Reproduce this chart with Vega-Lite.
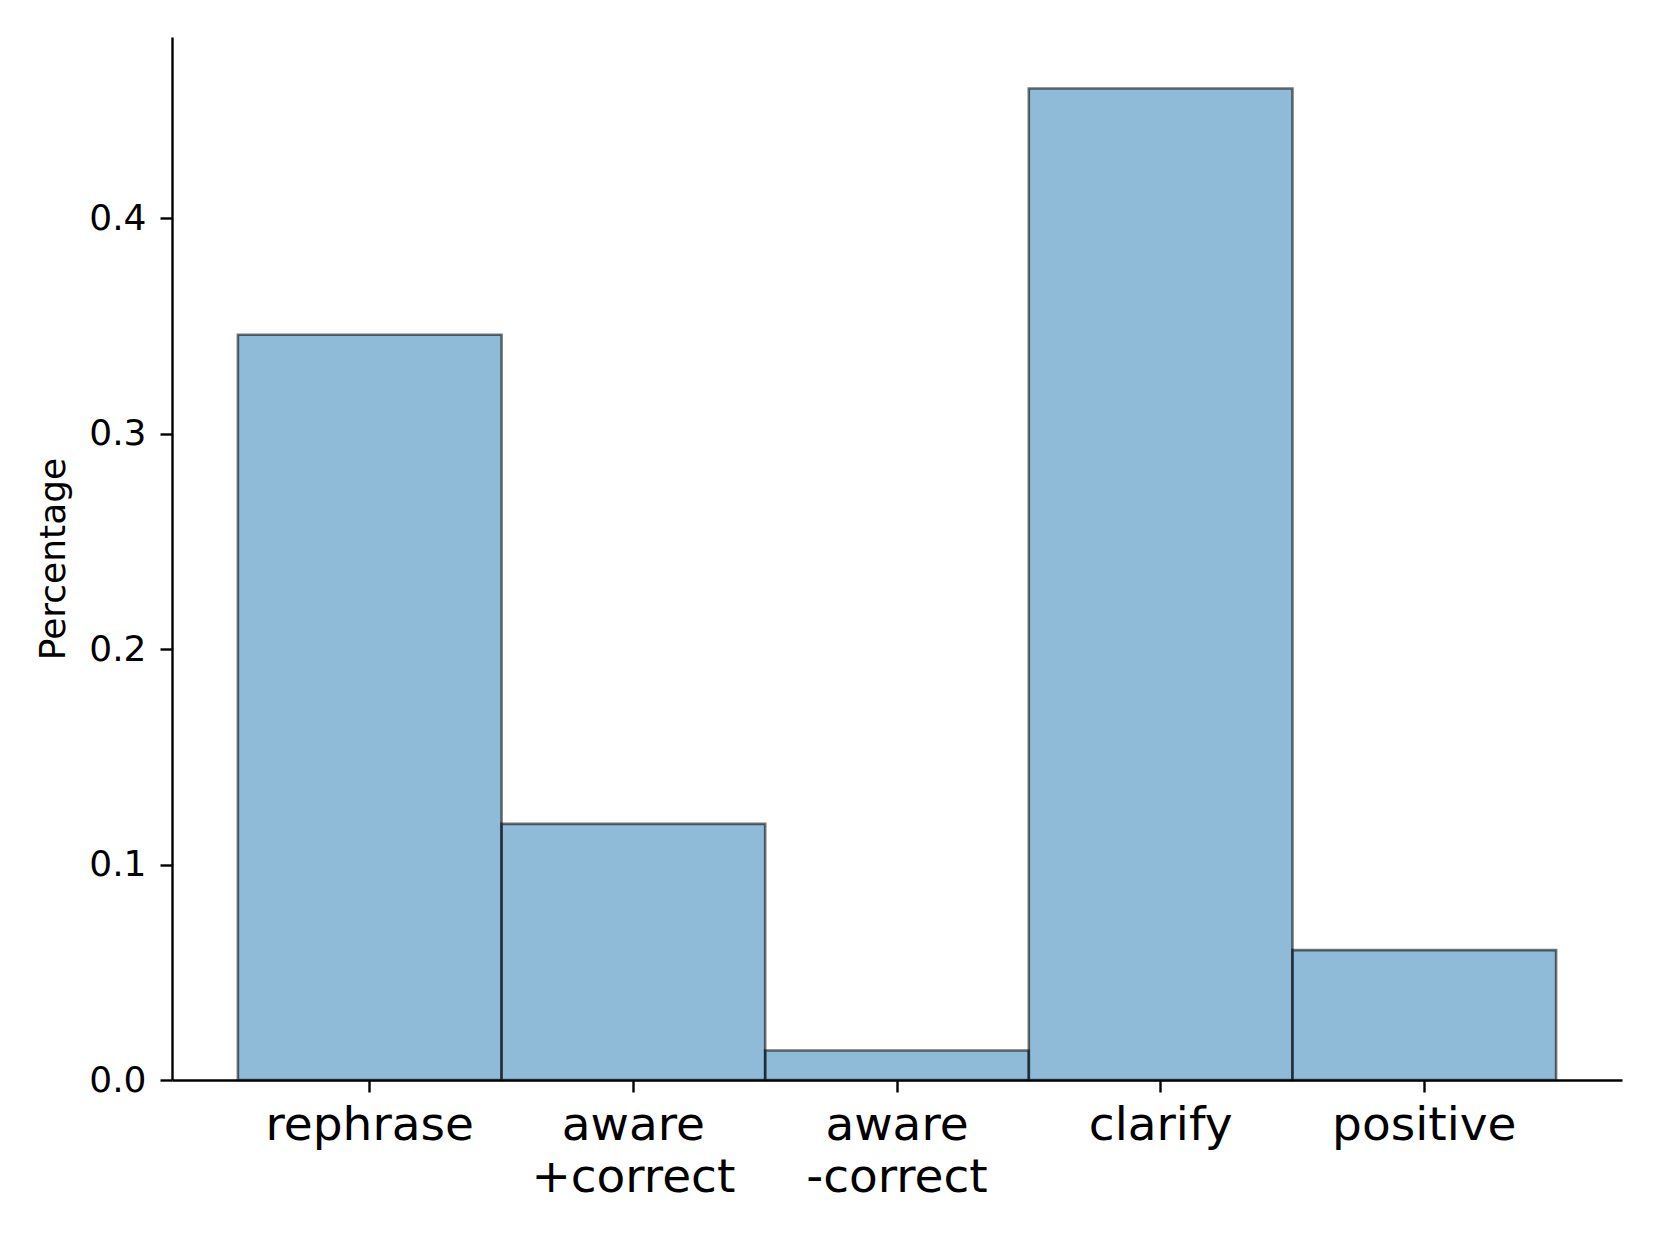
{
  "$schema": "https://vega.github.io/schema/vega-lite/v6.json",
  "width": 1450,
  "height": 1043,
  "autosize": {"type": "none"},
  "padding": {"left": 172, "top": 37, "right": 38, "bottom": 165},
  "background": "white",
  "config": {
    "view": {"stroke": null},
    "font": "DejaVu Sans"
  },
  "data": {
    "values": [
      {"category": "rephrase", "value": 0.3459},
      {"category": "aware +correct", "value": 0.1189},
      {"category": "aware -correct", "value": 0.0137},
      {"category": "clarify", "value": 0.4602},
      {"category": "positive", "value": 0.0603}
    ]
  },
  "mark": {
    "type": "bar",
    "fill": "#1f77b4",
    "fillOpacity": 0.5,
    "stroke": "black",
    "strokeOpacity": 0.55,
    "strokeWidth": 2.6
  },
  "encoding": {
    "x": {
      "field": "category",
      "type": "nominal",
      "sort": null,
      "scale": {"paddingInner": 0, "paddingOuter": 0.25},
      "axis": {
        "title": null,
        "labelAngle": 0,
        "labelExpr": "split(datum.label, ' ')",
        "labelFont": "DejaVu Sans",
        "labelFontSize": 47,
        "labelLineHeight": 52,
        "labelLimit": 0,
        "labelColor": "black",
        "labelPadding": 10,
        "labelBaseline": "top",
        "domainColor": "black",
        "domainWidth": 2.4,
        "tickColor": "black",
        "tickWidth": 2.4,
        "tickSize": 12,
        "grid": false
      }
    },
    "y": {
      "field": "value",
      "type": "quantitative",
      "scale": {"domain": [0, 0.4841], "nice": false, "zero": true},
      "axis": {
        "title": "Percentage",
        "titleFont": "DejaVu Sans",
        "titleFontSize": 36,
        "titleFontWeight": "normal",
        "titleColor": "black",
        "titlePadding": 16,
        "values": [0, 0.1, 0.2, 0.3, 0.4],
        "format": ".1f",
        "labelFont": "DejaVu Sans",
        "labelFontSize": 36,
        "labelColor": "black",
        "labelPadding": 14,
        "domainColor": "black",
        "domainWidth": 2.4,
        "tickColor": "black",
        "tickWidth": 2.4,
        "tickSize": 12,
        "grid": false
      }
    }
  }
}
